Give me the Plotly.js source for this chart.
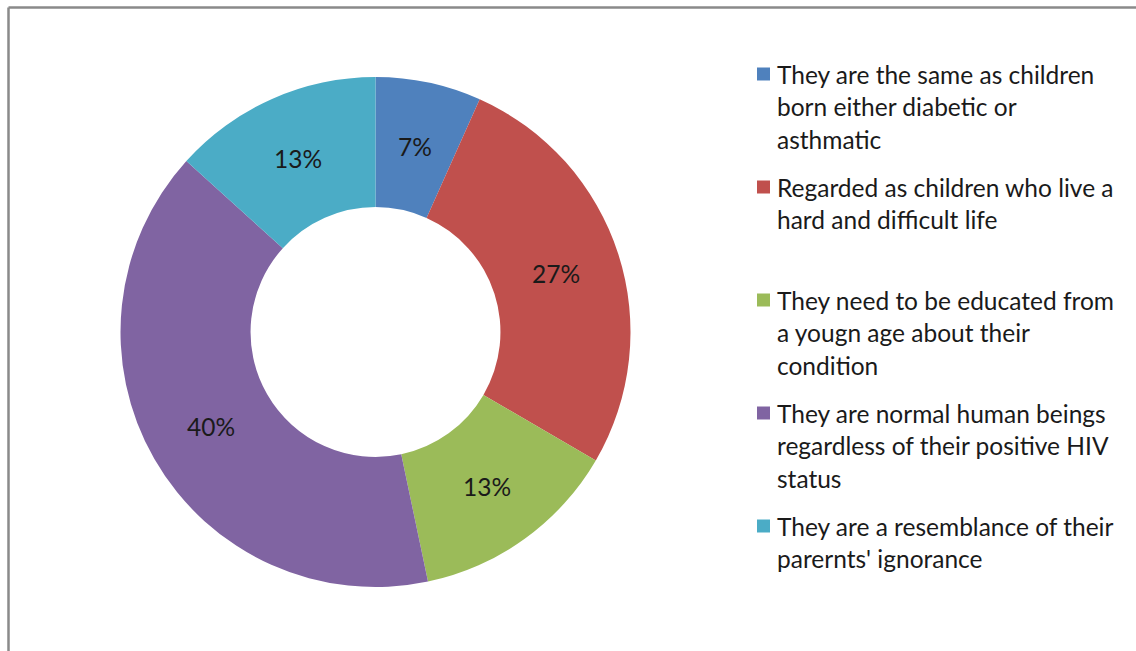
<!DOCTYPE html>
<html>
<head>
<meta charset="utf-8">
<script src="https://cdn.plot.ly/plotly-3.0.1.min.js"></script>
<style>
html,body{margin:0;padding:0;background:#fff;}
#chart{width:1136px;height:651px;}
</style>
</head>
<body>
<div id="chart"></div>
<script>
// ---- data ----
var labels = [
  "They are the same as children<br>born either diabetic or<br>asthmatic",
  "Regarded as children who live a<br>hard and difficult life",
  "They need to be educated from<br>a yougn age about their<br>condition",
  "They are normal human beings<br>regardless of their positive HIV<br>status",
  "They are a resemblance of their<br>parernts' ignorance"
];
var shares = [6.7, 26.7, 13.3, 40, 13.3];
var colors = ["#4F81BD", "#C0504D", "#9BBB59", "#8064A2", "#4BACC6"];

// ---- layout helpers (pixel -> paper) ----
var W = 1136, H = 651;
function px(x){ return x / W; }
function py(y){ return 1 - y / H; }

var FONT = "Lato, 'Open Sans', sans-serif";
var TEXTCOL = "#1a1a1a";
var FS = 24.5;

var cx = 375.5, cy = 332, R = 255, HOLE = 0.49;

var trace = {
  type: "pie",
  labels: labels,
  values: shares,
  sort: false,
  direction: "clockwise",
  rotation: 0,
  hole: HOLE,
  marker: {colors: colors, line: {width: 0}},
  textinfo: "none",
  domain: {x: [px(cx - R), px(cx + R)], y: [py(cy + R), py(cy - R)]},
  showlegend: false,
  hoverinfo: "label+percent"
};

var annotations = [];
var shapes = [];

// ---- data labels: percent at mid-angle, mid-radius of each slice ----
var total = shares.reduce(function(a, b){ return a + b; }, 0);
var cum = 0;
var rMid = R * (1 + HOLE) / 2;
shares.forEach(function(v){
  var frac = v / total;
  var ang = 2 * Math.PI * (cum + frac / 2);
  cum += frac;
  annotations.push({
    xref: "paper", yref: "paper",
    x: px(cx + rMid * Math.sin(ang)), y: py(cy - rMid * Math.cos(ang)),
    xanchor: "center", yanchor: "middle",
    text: Math.round(frac * 100) + "%", showarrow: false,
    font: {family: FONT, size: FS, color: TEXTCOL}
  });
});

// ---- legend drawn as annotations + squares ----
var legTop = 74, itemPitch = 113, lineGap = 32.5, textX = 775, sq = 13, sqX = 763.5;
labels.forEach(function(lab, i){
  var lines = lab.split("<br>");
  var y0 = legTop + itemPitch * i;
  lines.forEach(function(ln, j){
    annotations.push({
      xref: "paper", yref: "paper",
      x: px(textX), y: py(y0 + lineGap * j),
      xanchor: "left", yanchor: "middle",
      text: ln, showarrow: false,
      font: {family: FONT, size: FS, color: TEXTCOL}
    });
  });
  shapes.push({
    type: "rect", xref: "paper", yref: "paper",
    x0: px(sqX - sq/2), x1: px(sqX + sq/2),
    y0: py(y0 + sq/2), y1: py(y0 - sq/2),
    fillcolor: colors[i], line: {width: 0}
  });
});

// frame (left and top border)
shapes.push({type: "line", xref: "paper", yref: "paper",
  x0: px(8.5), x1: px(8.5), y0: 0, y1: py(7.5),
  line: {color: "#8a8a8a", width: 2.5}});
shapes.push({type: "line", xref: "paper", yref: "paper",
  x0: px(8.5), x1: 1, y0: py(7.5), y1: py(7.5),
  line: {color: "#8a8a8a", width: 2.5}});

var layout = {
  width: W, height: H,
  margin: {l: 0, r: 0, t: 0, b: 0},
  paper_bgcolor: "#ffffff",
  plot_bgcolor: "#ffffff",
  showlegend: false,
  annotations: annotations,
  shapes: shapes,
  font: {family: FONT}
};

Plotly.newPlot("chart", [trace], layout, {displayModeBar: false, staticPlot: true});
</script>
</body>
</html>
